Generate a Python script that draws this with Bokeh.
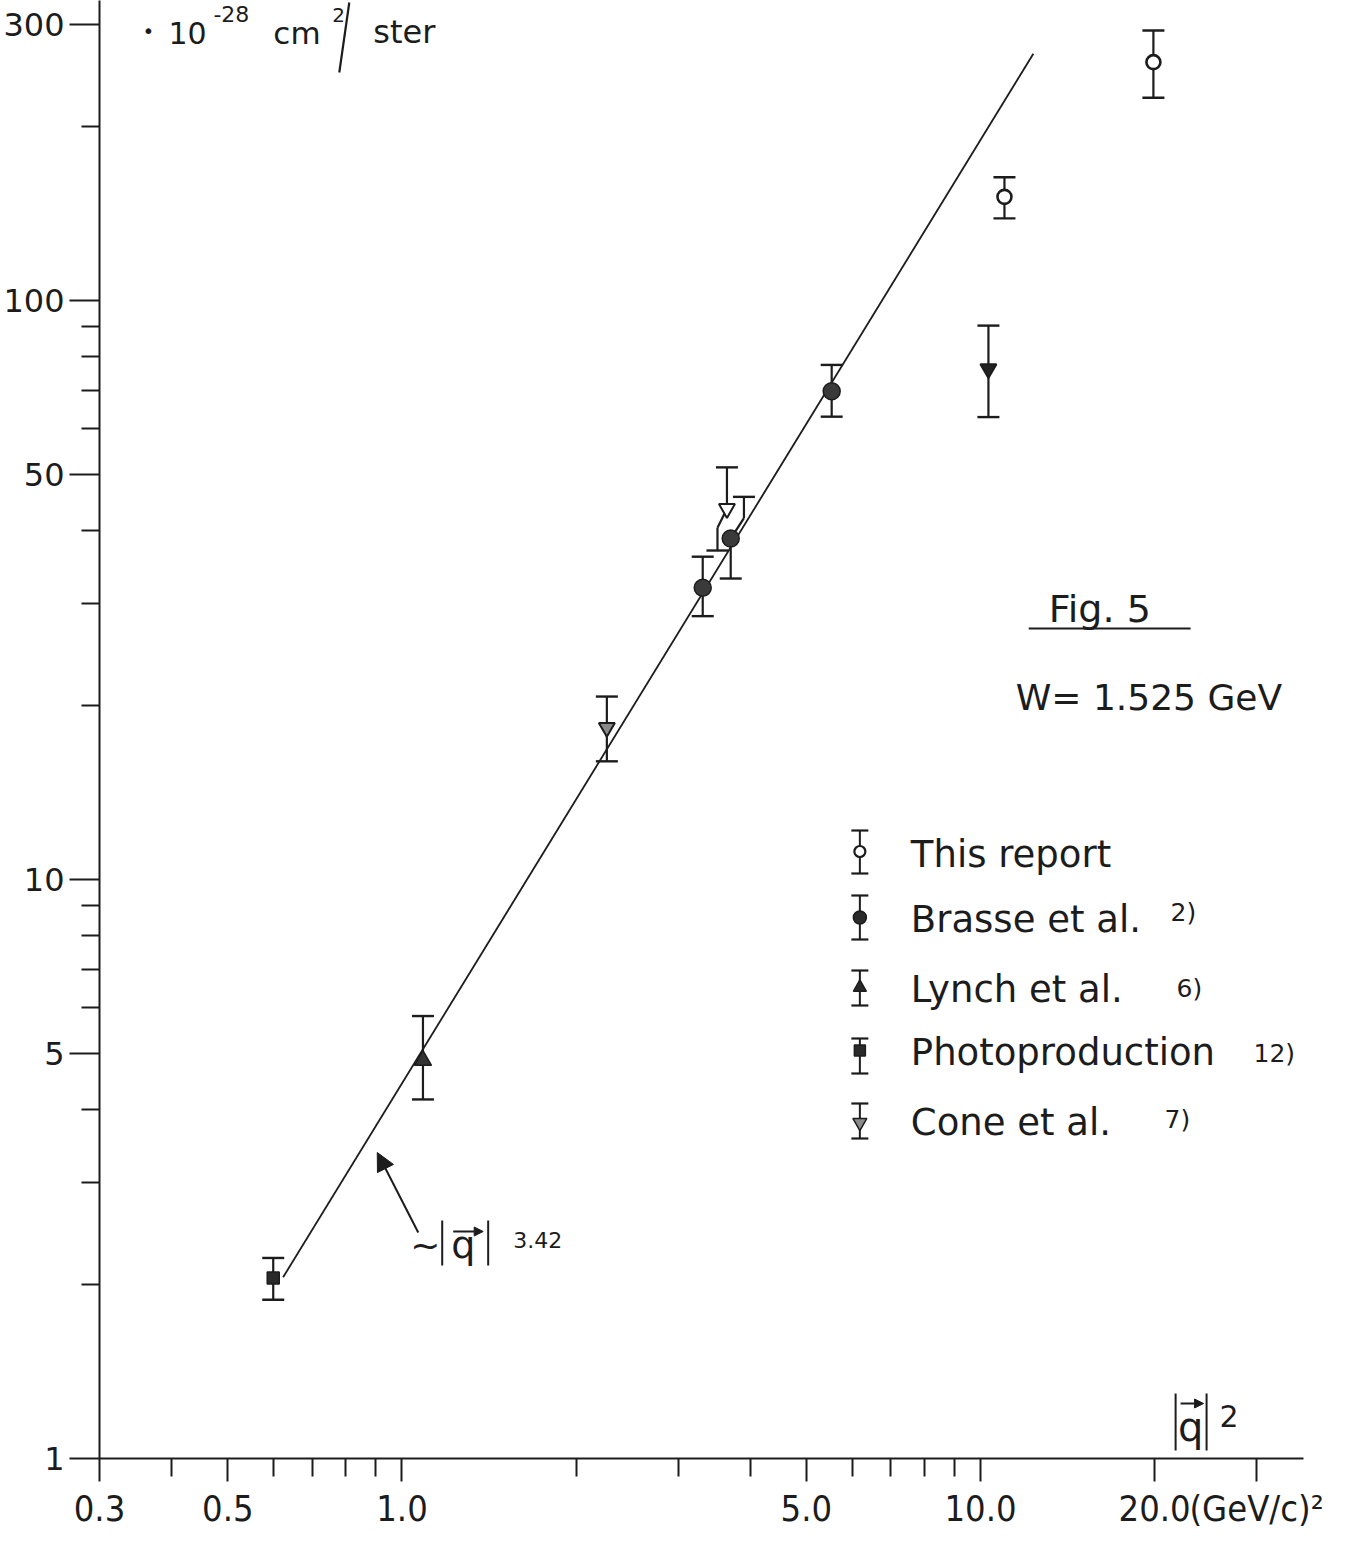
import math
from bokeh.plotting import figure
from bokeh.models import Range1d, FixedTicker, NumeralTickFormatter, Arrow, NormalHead
from bokeh.core.properties import value
from bokeh.embed import file_html
from bokeh.resources import INLINE

# ---------------- data ----------------
this_x = [11.0, 19.9]
this_y = [151.0, 258.0]
this_lo = [138.6, 223.9]
this_hi = [163.3, 292.6]

brasse_x = [3.31, 3.70, 5.53]
brasse_y = [31.9, 38.8, 69.7]
brasse_lo = [28.5, 33.1, 63.0]
brasse_hi = [36.1, 45.8, 77.4]

lynch_x = [1.087]
lynch_y = [4.87]
lynch_lo = [4.17]
lynch_hi = [5.81]

photo_x = [0.599]
photo_y = [2.05]
photo_lo = [1.88]
photo_hi = [2.22]

cone_x = [2.26, 3.645, 10.32]
cone_y = [18.3, 43.7, 76.2]
cone_lo = [16.0, 37.0, 62.9]
cone_hi = [20.7, 51.5, 90.5]

# error bars drawn displaced (hand-drawn jogs): (series, index, side) -> (bar x, knee y)
jogs = {("brasse", 1, "hi"): (3.90, 42.1), ("cone", 1, "lo"): (3.51, 40.5)}

fit_x = [0.623, 12.34]
fit_y = [2.056, 266.8]

x_major = [0.3, 0.5, 1.0, 5.0, 10.0, 20.0, 30.0]
x_minor = [0.4, 0.6, 0.7, 0.8, 0.9, 2, 3, 4, 6, 7, 8, 9]
x_unit_label = {30: "(GeV/c)\u00b2"}
y_major = [1, 5, 10, 50, 100, 300]
y_minor = [2, 3, 4, 6, 7, 8, 9, 20, 30, 40, 60, 70, 80, 90, 200]

# ---------------- layout ----------------
W, H = 1361, 1558
LEFT, RIGHT, TOP, BOTTOM = 98, 1303, 0, 1458
PPD = 579.0
X0 = 0.3
XMAX = 10 ** (math.log10(X0) + (RIGHT - LEFT) / PPD)
YMAX = 10 ** ((BOTTOM - TOP) / PPD)
INK = "#1c1c1c"


def sx(px):
    return 10 ** (math.log10(X0) + (px - LEFT) / PPD)


def sy(py):
    return 10 ** ((BOTTOM - py) / PPD)


p = figure(width=W, height=H, x_axis_type="log", y_axis_type="log",
           x_range=Range1d(X0, XMAX), y_range=Range1d(1, YMAX),
           output_backend="svg", toolbar_location=None,
           min_border_left=LEFT, min_border_right=W - RIGHT,
           min_border_top=TOP, min_border_bottom=H - BOTTOM)
p.grid.visible = False
p.outline_line_color = None
p.background_fill_color = "white"
p.border_fill_color = "white"

xa = p.xaxis[0]
xa.ticker = FixedTicker(ticks=x_major, minor_ticks=x_minor)
xa.formatter = NumeralTickFormatter(format="0.0")
xa.major_label_overrides = x_unit_label
xa.axis_line_width = 2
xa.axis_line_color = INK
xa.major_tick_line_width = 2
xa.minor_tick_line_width = 2
xa.major_tick_line_color = INK
xa.minor_tick_line_color = INK
xa.major_tick_out = 23
xa.major_tick_in = 0
xa.minor_tick_out = 18
xa.minor_tick_in = 0
xa.major_label_standoff = 6
xa.major_label_text_font = "'DejaVu Sans Condensed', 'DejaVu Sans'"
xa.major_label_text_font_size = "36px"
xa.major_label_text_color = INK

ya = p.yaxis[0]
ya.ticker = FixedTicker(ticks=y_major, minor_ticks=y_minor)
ya.formatter = NumeralTickFormatter(format="0")
ya.axis_line_width = 2
ya.axis_line_color = INK
ya.major_tick_line_width = 2
ya.minor_tick_line_width = 2
ya.major_tick_line_color = INK
ya.minor_tick_line_color = INK
ya.major_tick_out = 30
ya.major_tick_in = 0
ya.minor_tick_out = 18
ya.minor_tick_in = 0
ya.major_label_standoff = 5
ya.major_label_text_font = "DejaVu Sans"
ya.major_label_text_font_size = "32px"
ya.major_label_text_color = INK

# ---------------- fit line ----------------
p.line(fit_x, fit_y, line_color=INK, line_width=1.8)


def draw_series(name, xs, ys, lo, hi, marker, size, fill, lw=1.5):
    hbx, hkn, lbx, lkn = list(xs), list(ys), list(xs), list(ys)
    for (nm, i, side), (bx, kn) in jogs.items():
        if nm != name:
            continue
        if side == "hi":
            hbx[i], hkn[i] = bx, kn
        else:
            lbx[i], lkn[i] = bx, kn
    p.segment(x0=hbx, y0=hi, x1=hbx, y1=hkn, line_color=INK, line_width=2.2)
    p.segment(x0=hbx, y0=hkn, x1=xs, y1=ys, line_color=INK, line_width=2.2)
    p.segment(x0=lbx, y0=lo, x1=lbx, y1=lkn, line_color=INK, line_width=2.2)
    p.segment(x0=lbx, y0=lkn, x1=xs, y1=ys, line_color=INK, line_width=2.2)
    p.scatter(x=hbx + lbx, y=list(hi) + list(lo), marker="dash", size=22,
              line_color=INK, line_width=2.4)
    p.scatter(x=xs, y=ys, marker=marker, size=size, fill_color=fill,
              line_color=INK, line_width=lw)


draw_series("this", this_x, this_y, this_lo, this_hi, "circle", 14, "white", 2.6)
draw_series("brasse", brasse_x, brasse_y, brasse_lo, brasse_hi, "circle", 17, "#3a3a3a")
draw_series("lynch", lynch_x, lynch_y, lynch_lo, lynch_hi, "triangle", 17, "#333333")
draw_series("photo", photo_x, photo_y, photo_lo, photo_hi, "square", 12, "#2a2a2a")
draw_series("cone", cone_x, cone_y, cone_lo, cone_hi, "inverted_triangle", 16,
            ["#8a8a8a", "white", "#222222"], 2.0)


# ---------------- text helpers ----------------
BASE_SHIFT = 0.35  # renderer places glyph text this fraction of size below the anchor


def txt(px, py, s, size, align="left", font="DejaVu Sans"):
    p.text(x=[sx(px)], y=[sy(py - BASE_SHIFT * size)], text=[s], text_align=align,
           text_baseline="alphabetic", text_font=value(font),
           text_font_size=value(f"{size}px"), text_color=INK)


def seg(px0, py0, px1, py1, w=2.0):
    p.segment(x0=[sx(px0)], y0=[sy(py0)], x1=[sx(px1)], y1=[sy(py1)],
              line_color=INK, line_width=w)


# unit label top-left
txt(141, 37, "\u2022", 20)
txt(167, 43, "10", 30)
txt(212, 21, "-28", 22)
txt(272, 43, "cm", 31)
txt(331, 21, "2", 20)
seg(348, 2, 338, 72, 2.2)
txt(372, 43, "ster", 32)

# figure title
txt(1048, 622, "Fig. 5", 38)
seg(1028, 628, 1190, 628, 2.2)
txt(1015, 710, "W= 1.525  GeV", 36)

# legend
legend_rows = [
    ("This report", "circle", 11, "white", 2.2, 851, 830, 873, 867, None, None, None),
    ("Brasse  et  al.", "circle", 13, "#2a2a2a", 1.5, 917, 895, 939, 932, "2)", 1170, 921),
    ("Lynch et al.", "triangle", 13, "#2a2a2a", 1.5, 987, 970, 1005, 1002, "6)", 1176, 997),
    ("Photoproduction", "square", 11, "#2a2a2a", 1.5, 1050, 1038, 1073, 1065, "12)", 1253, 1062),
    ("Cone  et  al.", "inverted_triangle", 14, "#8a8a8a", 1.5, 1122, 1103, 1138, 1135, "7)", 1164, 1128),
]
LX = 859
for (lab, mk, sz, fc, lw, pyc, pyt, pyb, base, sup, supx, supb) in legend_rows:
    p.segment(x0=[sx(LX)], y0=[sy(pyt)], x1=[sx(LX)], y1=[sy(pyb)],
              line_color=INK, line_width=2.0)
    p.scatter(x=[sx(LX), sx(LX)], y=[sy(pyt), sy(pyb)], marker="dash", size=17,
              line_color=INK, line_width=2.2)
    p.scatter(x=[sx(LX)], y=[sy(pyc)], marker=mk, size=sz, fill_color=fc,
              line_color=INK, line_width=lw)
    txt(910, base, lab, 37)
    if sup:
        txt(supx, supb, sup, 25)

# annotation of the fit line: ~|q|^3.42
txt(409, 1258, "~", 36)
seg(441, 1220, 441, 1265, 2.0)
seg(487, 1220, 487, 1265, 2.0)
txt(462, 1258, "q", 38, align="center")
p.add_layout(Arrow(x_start=sx(452), y_start=sy(1231), x_end=sx(482), y_end=sy(1231),
                   line_color=INK, line_width=1.8,
                   end=NormalHead(size=9, fill_color=INK, line_color=INK)))
txt(512, 1247, "3.42", 22)
p.add_layout(Arrow(x_start=sx(417), y_start=sy(1232), x_end=sx(376), y_end=sy(1152),
                   line_color=INK, line_width=2.0,
                   end=NormalHead(size=18, fill_color=INK, line_color=INK)))

# axis title |q|^2
seg(1175, 1393, 1175, 1450, 2.0)
seg(1206, 1393, 1206, 1450, 2.0)
txt(1190, 1440, "q", 40, align="center")
p.add_layout(Arrow(x_start=sx(1180), y_start=sy(1403), x_end=sx(1203), y_end=sy(1403),
                   line_color=INK, line_width=1.8,
                   end=NormalHead(size=9, fill_color=INK, line_color=INK)))
txt(1219, 1426, "2", 30)

open("out.html", "w").write(file_html(p, INLINE))
